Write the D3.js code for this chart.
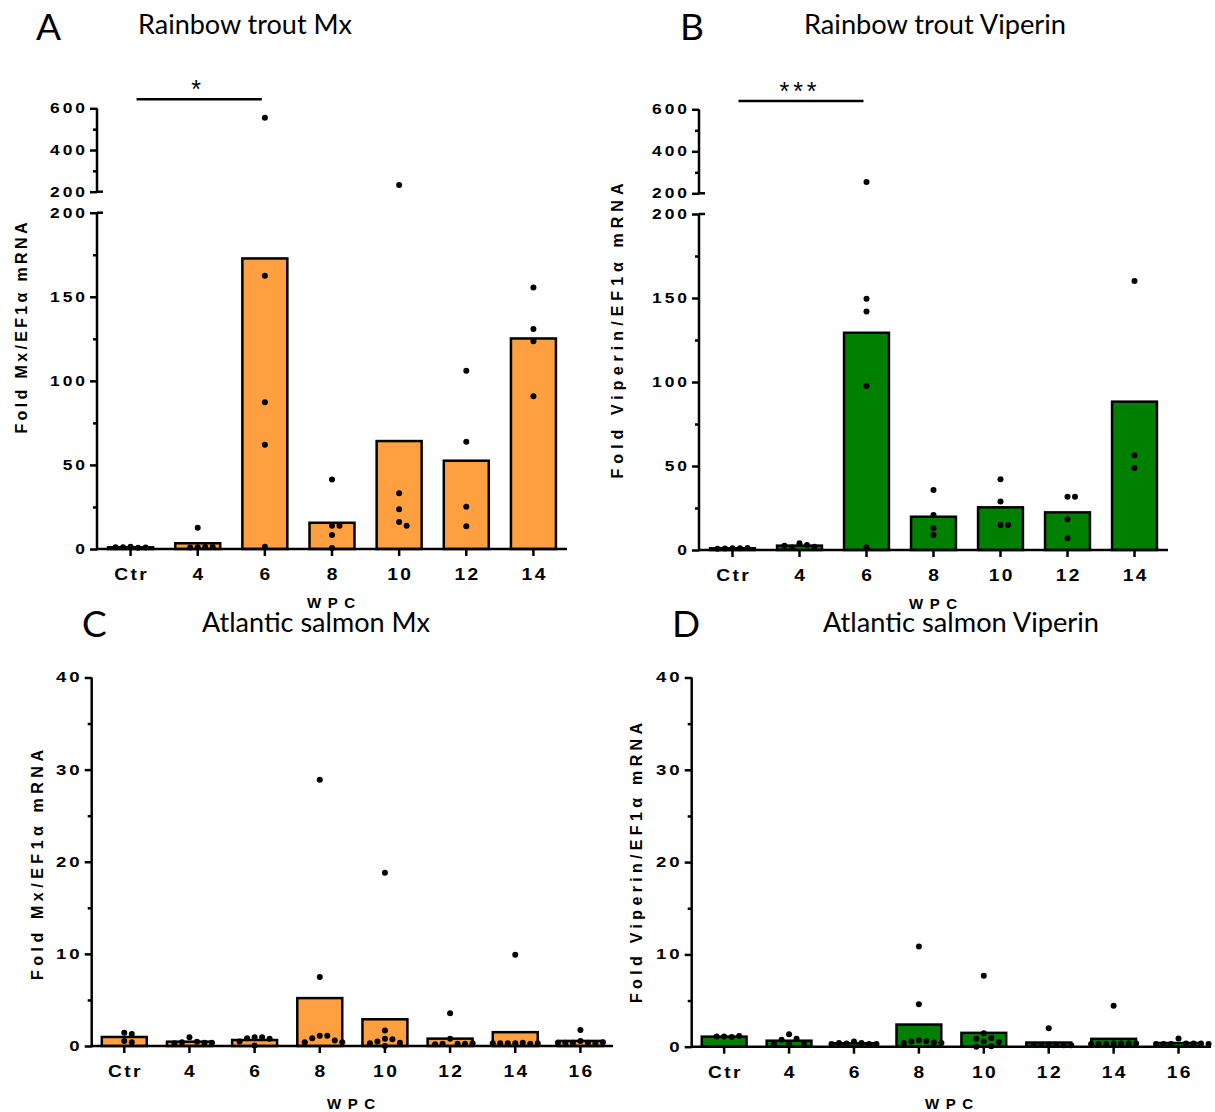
<!DOCTYPE html>
<html><head><meta charset="utf-8">
<script src="https://cdn.jsdelivr.net/npm/d3@7"></script>
<style>body{margin:0;background:#fff} svg{display:block}</style>
</head><body>
<svg id="c" width="1215" height="1112"></svg>
<script>
// ---------- DATA ----------
const troutCategories = ["Ctr", "4", "6", "8", "10", "12", "14"];
const salmonCategories = ["Ctr", "4", "6", "8", "10", "12", "14", "16"];

const troutMxMeans = [1.0, 3.4, 172.8, 15.6, 64.2, 52.5, 125.2];
const troutMxPoints = [
  [1.3, 0.7, 1.1, 0.9, 1.0],
  [12.7, 1.0, 1.2, 0.9, 1.2],
  [555, 162.5, 87.2, 62.0, 1.4],
  [41.4, 13.9, 13.9, 8.3, 0.6],
  [232, 33.1, 23.6, 16.0, 13.9],
  [106, 63.8, 25.1, 13.5],
  [155.5, 130.9, 123.6, 90.9]
];

const troutViperinMeans = [1.0, 2.6, 129.3, 19.8, 25.4, 22.4, 88.3];
const troutViperinPoints = [
  [1.0, 1.1, 0.9, 1.2, 0.8],
  [4.0, 3.0, 1.5, 2.0, 2.5],
  [253.8, 149.6, 141.9, 97.6, 1.6],
  [35.7, 20.8, 12.9, 8.9],
  [42.1, 28.8, 14.9, 14.9],
  [31.7, 31.7, 18.3, 7.0],
  [160.1, 56.4, 48.8]
];

const salmonMxMeans = [0.98, 0.47, 0.65, 5.2, 2.9, 0.8, 1.5, 0.55];
const salmonMxPoints = [
  [1.45, 1.3, 0.55, 0.4],
  [0.95, 0.45, 0.4, 0.35, 0.3, 0.35],
  [0.95, 0.95, 0.85, 0.8, 0.5, 0.05],
  [28.9, 7.5, 1.1, 1.1, 0.85, 0.6, 0.4, 0.4],
  [18.8, 1.67, 0.8, 0.73, 0.5, 0.36, 0.3, 0.0],
  [3.55, 0.8, 0.25, 0.25, 0.25, 0.2, 0.3],
  [9.9, 0.3, 0.35, 0.3, 0.25, 0.3, 0.3, 0.3],
  [1.75, 0.55, 0.35, 0.35, 0.3, 0.35, 0.4, 0.35]
];

const salmonViperinMeans = [1.09, 0.65, 0.37, 2.4, 1.5, 0.45, 0.85, 0.4];
const salmonViperinPoints = [
  [1.1, 1.05, 1.1, 1.15],
  [1.35, 0.85, 0.75, 0.3, 0.35, 0.3],
  [0.55, 0.4, 0.35, 0.3, 0.4, 0.3, 0.3],
  [10.85, 4.6, 0.7, 0.6, 0.55, 0.45, 0.4, 0.4],
  [7.7, 1.45, 0.95, 0.85, 0.55, 0.5, 0.05, 0.0],
  [2.0, 0.25, 0.2, 0.2, 0.15, 0.2, 0.15],
  [4.43, 0.35, 0.35, 0.3, 0.35, 0.3, 0.35, 0.3],
  [0.9, 0.35, 0.3, 0.35, 0.3, 0.35, 0.3, 0.3]
];

const troutLowerTicks = [0, 50, 100, 150, 200];
const troutLowerMinor = [25, 75, 125, 175];
const troutUpperTicks = [200, 400, 600];
const troutUpperMinor = [300, 500];
const salmonTicks = [0, 10, 20, 30, 40];
const salmonMinor = [5, 15, 25, 35];

// ---------- DRAWING ----------
const svg = d3.select('#c');
const ORANGE = '#FFA040', GREEN = '#008000';
const TF = '"Liberation Sans", Arial, sans-serif';
const SX = 1.2;

function stretched(g, x, y, txt, size, anchor, ls) {
  const comp = anchor === 'end' ? ls * SX : anchor === 'middle' ? ls * SX / 2 : 0;
  return g.append('text')
    .attr('transform', `translate(${x + comp},${y}) scale(${SX},1)`)
    .attr('text-anchor', anchor).attr('dominant-baseline', 'central')
    .style('font-family', TF).style('font-weight', 'bold').style('font-size', size + 'px')
    .style('letter-spacing', ls + 'px').attr('fill', '#000').text(txt);
}

function drawPanel(p) {
  const g = svg.append('g');
  const x = d3.scaleBand().domain(p.cats).range([p.axisX, p.xEnd])
    .paddingInner(p.padIn).paddingOuter(p.padIn / 2);
  const cx = c => x(c) + x.bandwidth() / 2;
  const segs = p.segments.map(s => Object.assign({}, s, {
    scale: d3.scaleLinear().domain(s.domain).range(s.range)
  }));
  const y = v => {
    const s = segs.find(s => v <= s.domain[1]) || segs[segs.length - 1];
    return s.scale(v);
  };
  const base = segs[0].scale(0);

  // bars
  g.selectAll('rect.bar').data(p.cats).join('rect').attr('class', 'bar')
    .attr('x', c => x(c)).attr('width', x.bandwidth())
    .attr('y', (c, i) => y(p.means[i]))
    .attr('height', (c, i) => base - y(p.means[i]))
    .attr('fill', p.color).attr('stroke', '#000').attr('stroke-width', 2.5);

  // y axis segments
  segs.forEach((s, si) => {
    const major = g.append('g').attr('transform', `translate(${p.axisX},0)`)
      .call(d3.axisLeft(s.scale).tickValues(s.major).tickSize(7).tickFormat(''));
    major.select('.domain').remove();
    major.selectAll('line').attr('stroke', '#000').attr('stroke-width', 2.5);
    const minor = g.append('g').attr('transform', `translate(${p.axisX},0)`)
      .call(d3.axisLeft(s.scale).tickValues(s.minor).tickSize(4).tickFormat(''));
    minor.select('.domain').remove();
    minor.selectAll('line').attr('stroke', '#000').attr('stroke-width', 2.5);
    g.append('line').attr('x1', p.axisX).attr('x2', p.axisX)
      .attr('y1', s.range[0] + (si === 0 ? 1.25 : 0)).attr('y2', s.range[1])
      .attr('stroke', '#000').attr('stroke-width', 2.5);
    s.major.forEach(v => stretched(g, p.axisX - 12, s.scale(v), String(v), p.yTickSize, 'end', 2.5));
    if (segs.length > 1) {
      const yb = si === 0 ? s.range[1] : s.range[0];
      g.append('line').attr('x1', p.axisX).attr('x2', p.axisX + 6)
        .attr('y1', yb).attr('y2', yb).attr('stroke', '#000').attr('stroke-width', 2.5);
    }
  });

  // x axis
  const xa = g.append('g').attr('transform', `translate(0,${base})`)
    .call(d3.axisBottom(x).tickSize(7).tickFormat(''));
  xa.select('.domain').remove();
  xa.selectAll('line').attr('stroke', '#000').attr('stroke-width', 2.5);
  g.append('line').attr('x1', p.axisX).attr('x2', p.xEnd)
    .attr('y1', base).attr('y2', base).attr('stroke', '#000').attr('stroke-width', 2.5);
  p.cats.forEach(c => stretched(g, cx(c), base + 25.5, c, 16, 'middle', 2));

  // dots (spread horizontally to avoid overlap)
  const step = 7.5, minD = 6.5;
  p.cats.forEach((c, i) => {
    const placed = [];
    p.points[i].forEach(v => {
      const py = y(v);
      let px = cx(c);
      for (let k = 0; k < 60; k++) {
        const off = k === 0 ? 0 : (k % 2 ? 1 : -1) * Math.ceil(k / 2) * step;
        const tx = cx(c) + off;
        if (placed.every(q => (q.x - tx) ** 2 + (q.y - py) ** 2 >= minD * minD)) { px = tx; break; }
      }
      placed.push({ x: px, y: py });
    });
    g.selectAll(null).data(placed).join('circle')
      .attr('cx', d => d.x).attr('cy', d => d.y).attr('r', 3).attr('fill', '#000');
  });

  // axis titles
  g.append('text')
    .attr('transform', `translate(${p.yTitle[0]},${p.yTitle[1]}) rotate(-90)`)
    .attr('text-anchor', 'middle').attr('dominant-baseline', 'central')
    .attr('textLength', p.yTitle[2]).attr('lengthAdjust', 'spacing')
    .style('font-family', TF).style('font-weight', 'bold').style('font-size', '16px')
    .text(p.yLabel);
  g.append('text')
    .attr('x', p.xTitle[0]).attr('y', p.xTitle[1])
    .attr('text-anchor', 'middle').attr('dominant-baseline', 'central')
    .attr('textLength', 48).attr('lengthAdjust', 'spacing')
    .style('font-family', TF).style('font-weight', 'bold').style('font-size', '15px')
    .text('WPC');

  // panel letter and title
  g.append('text').attr('x', p.letter[0]).attr('y', p.letter[1])
    .style('font-family', 'Lato, sans-serif').style('font-size', '37px').text(p.letterText);
  g.append('text').attr('x', p.title[0]).attr('y', p.title[1])
    .attr('textLength', p.title[2]).attr('lengthAdjust', 'spacingAndGlyphs')
    .style('font-family', 'Lato, sans-serif').style('font-size', '26px').text(p.titleText);

  // significance
  if (p.sig) {
    const x1 = cx(p.sig.from) + 6, x2 = cx(p.sig.to) - 3;
    g.append('line').attr('x1', x1).attr('x2', x2).attr('y1', p.sig.y).attr('y2', p.sig.y)
      .attr('stroke', '#000').attr('stroke-width', 2.5);
    g.append('text').attr('x', (x1 + x2) / 2 - 3 + p.sig.ls / 2).attr('y', p.sig.y - 1)
      .attr('text-anchor', 'middle')
      .style('font-family', TF).style('font-size', '25px').style('letter-spacing', p.sig.ls + 'px')
      .text(p.sig.text);
  }
}

drawPanel({
  cats: troutCategories, means: troutMxMeans, points: troutMxPoints, color: ORANGE,
  axisX: 97, xEnd: 567, padIn: 0.33, yTickSize: 14.5,
  segments: [
    { domain: [0, 200], range: [549, 212.7], major: troutLowerTicks, minor: troutLowerMinor },
    { domain: [200, 600], range: [191.7, 108.3], major: troutUpperTicks, minor: troutUpperMinor }
  ],
  yLabel: 'Fold Mx/EF1\u03b1 mRNA', yTitle: [21, 328, 211], xTitle: [331, 602],
  letterText: 'A', letter: [36, 40], titleText: 'Rainbow trout Mx', title: [138, 34, 214],
  sig: { from: 'Ctr', to: '6', y: 99.3, text: '*', ls: 0 }
});

drawPanel({
  cats: troutCategories, means: troutViperinMeans, points: troutViperinPoints, color: GREEN,
  axisX: 699, xEnd: 1168, padIn: 0.33, yTickSize: 14.5,
  segments: [
    { domain: [0, 200], range: [550, 214], major: troutLowerTicks, minor: troutLowerMinor },
    { domain: [200, 600], range: [193.3, 109.3], major: troutUpperTicks, minor: troutUpperMinor }
  ],
  yLabel: 'Fold Viperin/EF1\u03b1 mRNA', yTitle: [617, 331, 295], xTitle: [933, 603],
  letterText: 'B', letter: [680, 40], titleText: 'Rainbow trout Viperin', title: [804, 34, 262],
  sig: { from: 'Ctr', to: '6', y: 101, text: '***', ls: 4 }
});

drawPanel({
  cats: salmonCategories, means: salmonMxMeans, points: salmonMxPoints, color: ORANGE,
  axisX: 91.7, xEnd: 613, padIn: 0.31, yTickSize: 15.5,
  segments: [
    { domain: [0, 40], range: [1046, 677.5], major: salmonTicks, minor: salmonMinor }
  ],
  yLabel: 'Fold Mx/EF1\u03b1 mRNA', yTitle: [37, 865, 230], xTitle: [351, 1103],
  letterText: 'C', letter: [82, 637], titleText: 'Atlantic salmon Mx', title: [202, 632, 228]
});

drawPanel({
  cats: salmonCategories, means: salmonViperinMeans, points: salmonViperinPoints, color: GREEN,
  axisX: 691.7, xEnd: 1211, padIn: 0.31, yTickSize: 15.5,
  segments: [
    { domain: [0, 40], range: [1046.7, 677.5], major: salmonTicks, minor: salmonMinor }
  ],
  yLabel: 'Fold Viperin/EF1\u03b1 mRNA', yTitle: [636, 863, 280], xTitle: [949, 1103],
  letterText: 'D', letter: [672, 637], titleText: 'Atlantic salmon Viperin', title: [823, 632, 276]
});
</script>
</body></html>
